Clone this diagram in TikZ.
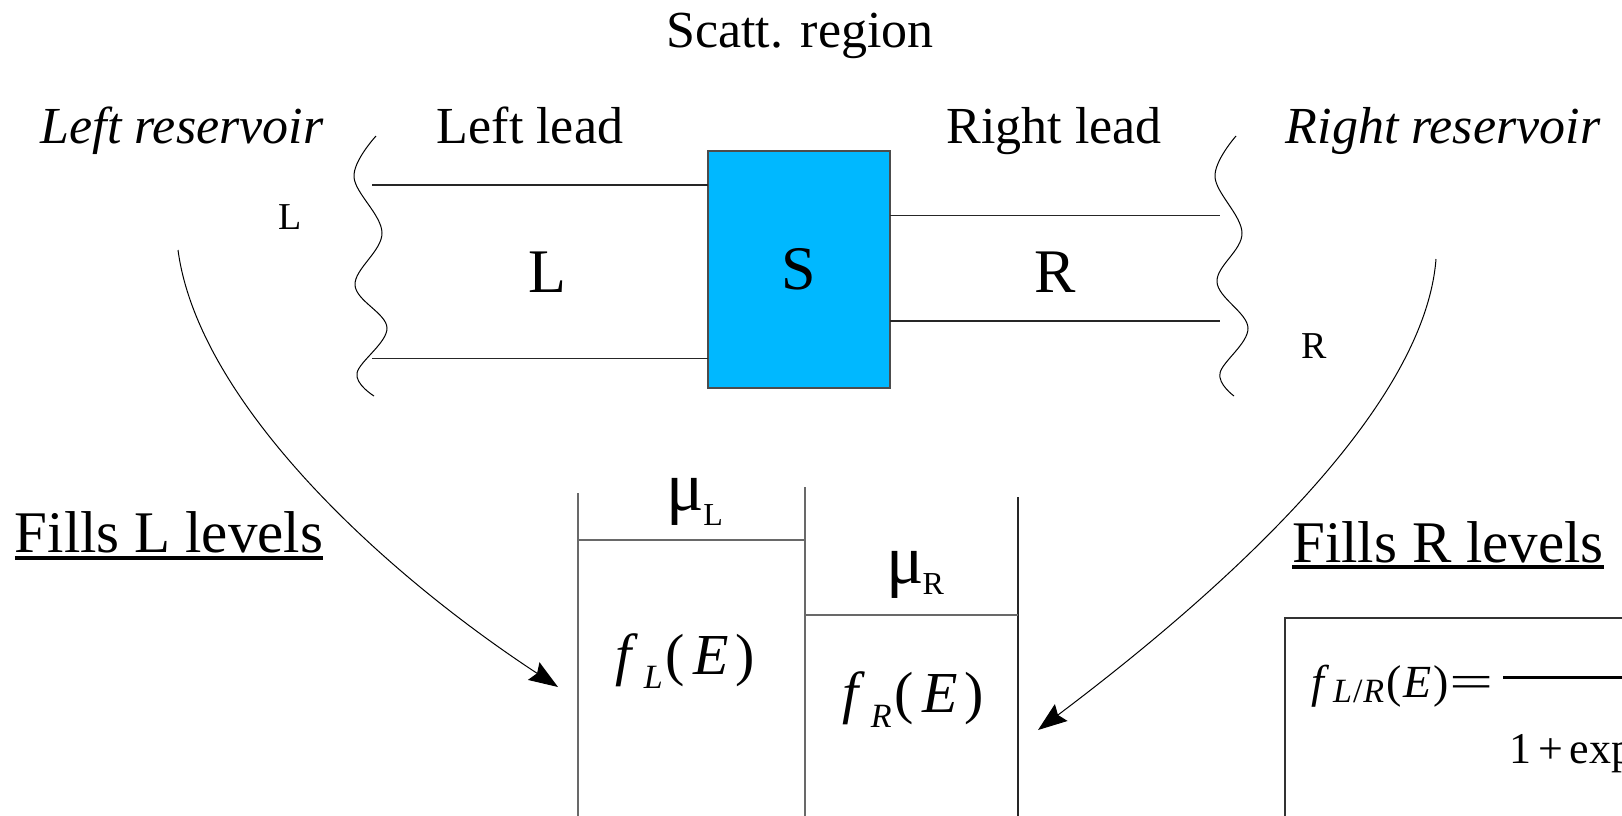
\documentclass[tikz,border=0pt]{standalone}
\usepackage{fontspec}
\usepackage{graphicx}
\setmainfont{Liberation Serif}
\usetikzlibrary{arrows.meta}
\definecolor{sbox}{RGB}{0,184,255}
\definecolor{lvl}{RGB}{105,105,105}
\newcommand{\fsz}[1]{\fontsize{#1}{#1}\selectfont}
\begin{document}
\begin{tikzpicture}[x=0.5pt,y=-0.5pt,
  lbl/.style={inner sep=0pt, outer sep=0pt, anchor=base},
  big/.style={lbl, font=\fsz{26}},
  leadline/.style={line width=0.65pt, black!85},
  wave/.style={line width=0.5pt},
  lvline/.style={line width=0.7pt, lvl},
  arr/.style={line width=0.5pt, -{Stealth[length=14.5pt,width=10.5pt,inset=2pt]}},
  uline/.style={line width=2pt}]
\useasboundingbox (0,0) rectangle (1622,815);
\clip (0,0) rectangle (1622,815);

% titles
\node[big] (scatt) at (800,47) {Scatt. region};
\node[big, font=\fsz{26}\itshape] (lres) at (182,143) {Left reservoir};
\node[big] (llead) at (530,143) {Left lead};
\node[big] (rlead) at (1054,143) {Right lead};
\node[big, font=\fsz{26}\itshape] (rres) at (1443,143) {Right reservoir};

% small reservoir labels
\node[lbl, font=\fsz{19}] (lsmall) at (290,229) {L};
\node[lbl, font=\fsz{19}] (rsmall) at (1314,358) {R};

% scattering box
\node[fill=sbox, draw=black!70, line width=0.6pt, minimum width=91pt, minimum height=118.5pt,
      inner sep=0pt, font=\fsz{31}] (S) at (799,269.5) {S};

% leads
\draw[leadline] (372,185) -- (708,185);
\draw[leadline] (372,358.5) -- (708,358.5);
\draw[leadline] (890,215.5) -- (1220,215.5);
\draw[leadline] (890,321) -- (1220,321);
\node[lbl, font=\fsz{31}] (Lbig) at (547,292) {L};
\node[lbl, font=\fsz{31}] (Rbig) at (1055,292) {R};

% wavy reservoir boundaries
\draw[wave] plot[smooth, tension=0.6] coordinates {(376,136) (354,177) (382,233) (355,285) (387,328) (357,373) (374,396)};
\draw[wave] plot[smooth, tension=0.6] coordinates {(1236,136) (1215,177) (1242,233) (1217,282) (1248,328) (1220,373) (1234,396)};

% fills labels
\node[lbl, font=\fsz{29.5}] (fillsL) at (169,552) {Fills L levels};
\draw[uline] ([yshift=-3pt]fillsL.base west) -- ([yshift=-3pt]fillsL.base east);
\node[lbl, font=\fsz{29.5}] (fillsR) at (1448,562) {Fills R levels};
\draw[uline] ([yshift=-2.6pt]fillsR.base west) -- ([yshift=-2.6pt]fillsR.base east);

% arrows
\coordinate (la0) at (178,250);
\coordinate (la1) at (558,687);
\draw[arr] (la0) .. controls (198,400) and (378,569) .. (la1);
\coordinate (ra0) at (1436,259);
\coordinate (ra1) at (1038,730);
\draw[arr] (ra0) .. controls (1424,415) and (1208,602) .. (ra1);

% level diagram
\draw[lvline] (578,493) -- (578,830);
\draw[lvline] (805,487) -- (805,830);
\draw[lvline, black!85] (1018,497) -- (1018,830);
\draw[lvline] (578,540) -- (805,540);
\draw[lvline] (805,615) -- (1018,615);

\node[lbl] (muL) at (695,510) {\fsz{35}μ\kern-0.5pt\raisebox{-7.5pt}{\fsz{16}L}};
\node[lbl] (muR) at (915,583) {\fsz{35}μ\kern-0.5pt\raisebox{-5.5pt}{\fsz{16}R}};

\node[lbl] (fL) at (685,674) {\fsz{29}\textit{f}\kern3pt\raisebox{-7pt}{\fsz{17}\textit{L}}\kern1.5pt(\kern4pt\textit{E}\kern3.5pt)};
\node[lbl] (fR) at (913,712) {\fsz{29}\textit{f}\kern3pt\raisebox{-7.5pt}{\fsz{17}\textit{R}}\kern1.5pt(\kern4pt\textit{E}\kern3.5pt)};

% formula box
\draw[line width=0.7pt, black!80] (1285,830) -- (1285,618) -- (1640,618);
\node[lbl, anchor=base west] (fLR) at (1311,697) {\fsz{23}\textit{f}\kern2pt\raisebox{-2.5pt}{\fsz{17}\textit{L}\kern0.5pt/\kern0.5pt\textit{R}}\kern1pt(\kern1pt\textit{E}\kern1pt)\kern0.5pt\scalebox{1.7}[1]{=}};
\draw[line width=1.5pt] (1503,677) -- (1640,677);
\node[lbl, anchor=base west] (den) at (1509,763) {\fsz{22}1\kern4pt+\kern3pt exp};
\end{tikzpicture}
\end{document}
